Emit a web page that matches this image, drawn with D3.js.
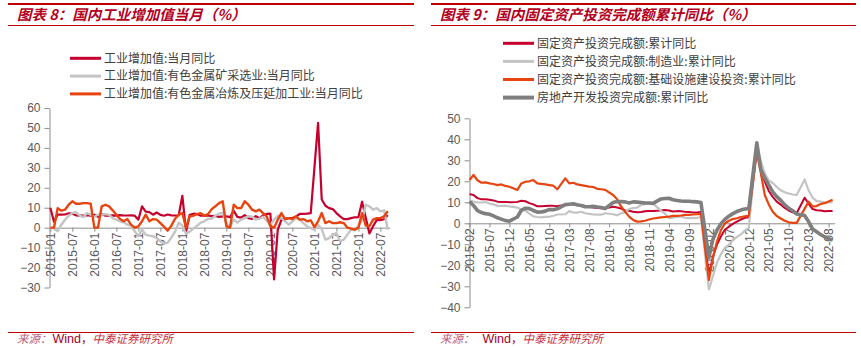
<!DOCTYPE html>
<html>
<head>
<meta charset="utf-8">
<script src="https://cdn.jsdelivr.net/npm/d3@7/dist/d3.min.js"></script>
<style>
  html, body { margin: 0; padding: 0; background: #fff; }
  svg { display: block; }
</style>
</head>
<body>
<svg id="chart" width="861" height="348"></svg>
<script>
// ---------- Panel 8: industrial value added, monthly YoY (%) ----------
// months 2015-01 .. 2022-09
const ivaMonths = d3.range(93).map(i => {
  const y = 2015 + Math.floor(i / 12), m = (i % 12) + 1;
  return y + "-" + String(m).padStart(2, "0");
});
const ivaTicks = ["2015-01","2015-07","2016-01","2016-07","2017-01","2017-07","2018-01","2018-07",
                  "2019-01","2019-07","2020-01","2020-07","2021-01","2021-07","2022-01","2022-07"];
const ivaYTicks = [-30, -20, -10, 0, 10, 20, 30, 40, 50, 60];
const ivaNames = ["工业增加值:当月同比",
                  "工业增加值:有色金属矿采选业:当月同比",
                  "工业增加值:有色金属冶炼及压延加工业:当月同比"];
const ivaTotal = [
  10, 3, 6.5, 6.5, 6.6, 7.2, 7.0, 6.2, 6.0, 6.0, 6.3, 6.0,
  6.5, 5.4, 6.8, 6.0, 6.0, 6.2, 6.0, 6.3, 6.1, 6.1, 6.2, 6.0,
  4.0, 10.7, 8.0, 7.8, 6.5, 7.6, 6.4, 6.0, 6.6, 6.2, 6.1, 6.2,
  16.0, -2.0, 6.5, 7.0, 6.8, 6.0, 6.0, 6.1, 5.8, 5.9, 5.4, 5.7,
  5.7, 5.3, 8.5, 5.4, 5.0, 6.3, 4.8, 4.4, 5.8, 4.7, 6.2, 6.9,
  7.0, -26.0, -1.1, 3.9, 4.4, 4.8, 4.8, 5.6, 6.9, 6.9, 7.0, 7.3,
  null, 52.5, 14.1, 11.0, 9.8, 9.3, 7.3, 5.7, 4.3, 4.3, 4.8, 5.2,
  5.3, 13.0, 5.0, -2.9, 0.7, 3.9, 3.8, 4.2, 6.3
];
const ivaMining = [
  0, -0.5, -1.8, 1.5, 4.0, 6.0, 7.3, 7.8, 6.0, 5.3, 7.3, 6.5,
  5.5, 6.5, 6.5, 6.8, 6.5, 4.8, 4.0, 3.2, 2.7, 1.5, 1.0, -1.8,
  -4.3, -1.0, -3.5, -4.0, -4.3, -5.2, -6.8, -8.0, -7.5, -5.0, -2.0, 2.5,
  1.0, -3.0, -2.0, -0.5, 1.0, 2.5, 3.2, 4.5, 4.5, 6.0, 7.0, 7.5,
  2.0, 0.5, 4.0, 2.5, 4.0, 4.8, 5.7, 5.5, 4.0, 4.5, 5.5, 3.5,
  1.5, 4.0, 6.0, 4.8, 3.2, 1.5, 3.2, 4.8, 4.0, 2.3, 0.7, -0.2,
  -1.0, 1.5, -0.7, -6.0, -5.2, -3.5, -2.7, -6.8, -6.0, -3.5, -1.0, -1.3,
  0.7, 4.0, 11.5, 10.7, 9.0, 9.8, 8.2, 8.7, -1.0
];
const ivaSmelting = [
  0, 0, 9.8, 8.5, 9.0, 11.5, 13.2, 12.0, 12.0, 12.3, 12.3, 12.0,
  0, 0, 10.7, 11.5, 10.7, 8.7, 6.5, 4.3, 3.2, 4.3, 1.5, 0,
  0.7, 3.2, 6.5, 3.2, 4.3, 4.0, 2.3, 0.5, -1.5, 1.0, 4.5, 6.5,
  7.3, 0, 5.7, 6.0, 6.8, 7.3, 6.0, 6.8, 9.3, 10.7, 12.3, 13.2,
  0.7, 0, 11.5, 9.8, 9.8, 13.2, 11.5, 9.0, 8.2, 9.0, 7.3, 5.7,
  0.7, 0, 4.0, 7.3, 4.3, 4.8, 4.3, 5.7, 4.0, 4.3, 3.2, 3.7,
  0.3, 3.2, 7.3, 2.3, 3.2, 2.3, 2.3, 2.7, 2.3, 0, -0.5, -1.0,
  0, 7.3, 1.0, 0.7, 4.0, 4.8, 4.8, 5.7, 8.2
];

// ---------- Panel 9: fixed-asset investment, cumulative YoY (%) ----------
// months 2015-02 .. 2022-09 (January has no cumulative figure)
const faiMonths = d3.range(92).map(i => {
  const k = i + 1;
  const y = 2015 + Math.floor(k / 12), m = (k % 12) + 1;
  return y + "-" + String(m).padStart(2, "0");
});
const faiTicks = ["2015-02","2015-07","2015-12","2016-05","2016-10","2017-03","2017-08","2018-01",
                  "2018-06","2018-11","2019-04","2019-09","2020-02","2020-07","2020-12","2021-05",
                  "2021-10","2022-03","2022-08"];
const faiYTicks = [-40, -30, -20, -10, 0, 10, 20, 30, 40, 50];
const faiNames = ["固定资产投资完成额:累计同比",
                  "固定资产投资完成额:制造业:累计同比",
                  "固定资产投资完成额:基础设施建设投资:累计同比",
                  "房地产开发投资完成额:累计同比"];
const faiTotal = [
  13.9, 13.5, 12.0, 11.4, 11.4, 11.2, 10.9, 10.3, 10.2, 10.2, 10.0,
  null, 10.2, 10.7, 10.5, 9.6, 9.0, 8.1, 8.1, 8.2, 8.3, 8.3, 8.1,
  null, 8.9, 9.2, 8.9, 8.6, 8.6, 8.3, 7.8, 7.5, 7.3, 7.2, 7.2,
  null, 7.9, 7.5, 7.0, 6.1, 6.0, 5.5, 5.3, 5.4, 5.7, 5.9, 5.9,
  null, 6.1, 6.3, 6.1, 5.6, 5.8, 5.7, 5.5, 5.4, 5.2, 5.2, 5.4,
  null, -24.5, -16.1, -10.3, -6.3, -3.1, -1.6, -0.3, 0.8, 1.8, 2.6, 2.9,
  null, 35.0, 25.6, 19.9, 15.4, 12.6, 10.3, 8.9, 7.3, 6.1, 5.2, 4.9,
  null, 12.2, 9.3, 6.8, 6.2, 6.1, 5.7, 5.8, 5.9
];
const faiManufacturing = [
  10.9, 10.4, 10.0, 9.9, 10.1, 9.4, 9.0, 8.3, 8.3, 8.4, 8.1,
  null, 7.5, 6.4, 6.0, 4.6, 3.3, 3.0, 2.8, 3.1, 3.1, 3.6, 4.2,
  null, 4.3, 5.8, 5.1, 5.1, 5.5, 4.8, 4.5, 4.2, 4.1, 4.1, 4.8,
  null, 4.3, 3.8, 4.8, 5.2, 6.8, 7.3, 7.5, 8.7, 9.1, 9.5, 9.5,
  null, 5.9, 4.6, 2.5, 2.7, 3.0, 3.3, 2.6, 2.5, 2.6, 2.5, 3.1,
  null, -31.5, -25.2, -18.8, -14.8, -11.7, -10.2, -8.1, -6.5, -5.3, -3.5, -2.2,
  null, 37.3, 29.8, 23.8, 20.4, 19.2, 17.3, 15.7, 14.8, 14.2, 13.7, 13.5,
  null, 20.9, 15.6, 12.2, 10.6, 10.4, 9.9, 10.0, 10.1
];
const faiInfrastructure = [
  20.6, 23.0, 20.5, 19.3, 19.5, 19.0, 18.7, 18.2, 18.5, 17.8, 17.4,
  null, 15.9, 19.0, 19.8, 20.0, 20.6, 19.0, 18.8, 18.5, 18.2, 17.9, 16.2,
  null, 21.4, 19.0, 19.3, 18.5, 18.2, 17.8, 17.5, 17.3, 16.4, 16.2, 15.9,
  null, 13.5, 11.5, 8.0, 5.5, 3.2, 1.6, 0.8, 0.9, 1.2, 1.8, 2.3,
  null, 2.8, 3.0, 3.2, 3.5, 3.5, 3.7, 4.0, 4.0, 4.2, 4.3, 4.5,
  null, -27.0, -16.4, -8.8, -3.3, -0.1, 1.2, 2.0, 2.4, 3.0, 3.3, 3.5,
  null, 34.0, 24.0, 13.5, 9.0, 5.5, 3.5, 2.3, 1.2, 0.5, 0.2, 0.2,
  null, 7.0, 10.3, 8.0, 8.2, 9.2, 9.6, 10.4, 11.2
];
const faiRealEstate = [
  10.4, 8.5, 6.0, 5.1, 4.6, 4.3, 3.5, 2.6, 2.0, 1.3, 1.0,
  null, 3.0, 6.2, 7.2, 7.0, 6.1, 5.3, 5.4, 5.8, 6.6, 6.5, 6.9,
  null, 8.9, 9.1, 9.3, 8.8, 8.5, 7.9, 7.9, 8.1, 7.8, 7.5, 7.0,
  null, 9.9, 10.4, 10.3, 10.2, 9.7, 10.2, 10.1, 9.9, 9.7, 9.7, 9.5,
  null, 11.6, 11.8, 11.9, 11.2, 10.9, 10.6, 10.5, 10.5, 10.3, 10.2, 9.9,
  null, -16.3, -7.7, -3.3, -0.3, 1.9, 3.4, 4.6, 5.6, 6.3, 6.8, 7.0,
  null, 38.3, 25.6, 21.6, 18.3, 15.0, 12.7, 10.9, 8.8, 7.2, 6.0, 4.4,
  null, 3.7, 0.7, -2.7, -4.0, -5.4, -6.4, -7.4, -8.0
];

// ---------- shared styling ----------
const RED = "#c5002e", LIGHT = "#c4c4c4", ORANGE = "#e8440f", DARK = "#7f7f7f";
const TITLE_RED = "#b4001c", RULE_RED = "#c00000";
const AXIS_GRAY = "#8c8c8c", TICK_TEXT = "#595959";
const CJK = "'Noto Sans CJK SC', 'Noto Sans', sans-serif";
const LATIN = "'Liberation Sans', Arial, sans-serif";

const svg = d3.select("#chart");

function drawPanel(cfg) {
  const g = svg.append("g");

  // title block with red rules
  g.append("line").attr("x1", cfg.left).attr("x2", cfg.right)
    .attr("y1", 4).attr("y2", 4).attr("stroke", RULE_RED).attr("stroke-width", 2);
  g.append("line").attr("x1", cfg.left).attr("x2", cfg.right)
    .attr("y1", 25.5).attr("y2", 25.5).attr("stroke", RULE_RED).attr("stroke-width", 1);
  g.append("text").attr("x", cfg.titleX).attr("y", 19.5)
    .attr("font-family", CJK).attr("font-size", 14.5).attr("font-weight", "bold")
    .attr("font-style", "italic").attr("fill", TITLE_RED).text(cfg.title);

  // source line
  g.append("line").attr("x1", cfg.left).attr("x2", cfg.right)
    .attr("y1", 332.5).attr("y2", 332.5).attr("stroke", RULE_RED).attr("stroke-width", 1);
  const src = g.append("text").attr("x", cfg.titleX).attr("y", 342.5)
    .attr("font-size", 11.5).attr("font-family", CJK);
  src.append("tspan").attr("fill", "#c0607c").attr("font-style", "italic").text("来源：");
  src.append("tspan").attr("fill", "#a8002a").attr("font-family", LATIN).attr("font-size", 12.5)
    .attr("dx", cfg.srcGap).text("Wind");
  src.append("tspan").attr("fill", "#a8002a").text("，");
  src.append("tspan").attr("fill", "#c8303c").attr("font-style", "italic").text("中泰证券研究所");

  // scales
  const x = d3.scalePoint().domain(cfg.months).range(cfg.xRange).padding(0.5);
  const y = d3.scaleLinear().domain(cfg.yDomain).range(cfg.yRange);

  // y axis
  const yAxis = g.append("g").attr("transform", `translate(${cfg.yAxisX},0)`)
    .call(d3.axisLeft(y).tickValues(cfg.yTicks).tickSize(5).tickSizeOuter(0).tickPadding(4));
  yAxis.select(".domain").attr("stroke", AXIS_GRAY);
  yAxis.selectAll(".tick line").attr("stroke", AXIS_GRAY);
  yAxis.selectAll(".tick text").attr("fill", TICK_TEXT)
    .attr("font-family", LATIN).attr("font-size", 12);

  // x axis along the zero line, rotated month labels
  const xAxis = g.append("g").attr("transform", `translate(0,${y(0)})`)
    .call(d3.axisBottom(x).tickValues(cfg.ticks).tickSize(4).tickSizeOuter(0));
  xAxis.select(".domain").attr("stroke", AXIS_GRAY);
  xAxis.selectAll(".tick line").attr("stroke", AXIS_GRAY);
  xAxis.selectAll(".tick text")
    .attr("transform", "rotate(-90)")
    .attr("x", -5).attr("y", 0).attr("dy", "0.35em")
    .style("text-anchor", "end")
    .attr("fill", TICK_TEXT).attr("font-family", LATIN).attr("font-size", 12);

  // series lines (missing months are bridged)
  const line = d3.line().x(d => x(d.m)).y(d => y(d.v));
  cfg.series.forEach(s => {
    const pts = s.values.map((v, i) => ({ m: cfg.months[i], v }))
      .filter(d => d.v !== null);
    g.append("path").datum(pts)
      .attr("fill", "none").attr("stroke", s.color)
      .attr("stroke-width", s.width).attr("stroke-linejoin", "round")
      .attr("d", line);
  });

  // legend
  cfg.series.forEach((s, i) => {
    const ly = cfg.legendY + i * cfg.legendStep;
    g.append("line").attr("x1", cfg.legendX).attr("x2", cfg.legendX + 31)
      .attr("y1", ly).attr("y2", ly).attr("stroke", s.color)
      .attr("stroke-width", s.legendWidth);
    g.append("text").attr("x", cfg.legendX + 34).attr("y", ly).attr("dy", "0.36em")
      .attr("font-family", CJK).attr("font-size", 12).attr("fill", "#404040")
      .text(s.name);
  });
}

drawPanel({
  left: 8, right: 414, titleX: 17, srcGap: 1,
  title: "图表 8：国内工业增加值当月（%）",
  months: ivaMonths, ticks: ivaTicks,
  xRange: [48.5, 389.6], yAxisX: 49.5,
  yDomain: [-30, 60], yRange: [287.5, 108], yTicks: ivaYTicks,
  legendX: 70, legendY: 58.3, legendStep: 17.8,
  series: [
    { name: ivaNames[0], values: ivaTotal, color: RED, width: 2.2, legendWidth: 3 },
    { name: ivaNames[1], values: ivaMining, color: LIGHT, width: 2.4, legendWidth: 3 },
    { name: ivaNames[2], values: ivaSmelting, color: ORANGE, width: 2.4, legendWidth: 3 }
  ]
});

drawPanel({
  left: 431, right: 856, titleX: 440, srcGap: 8,
  title: "图表 9：国内固定资产投资完成额累计同比（%）",
  months: faiMonths, ticks: faiTicks,
  xRange: [467.5, 834.6], yAxisX: 469.5,
  yDomain: [-40, 50], yRange: [307.3, 118.3], yTicks: faiYTicks,
  legendX: 503, legendY: 43.3, legendStep: 18.1,
  series: [
    { name: faiNames[0], values: faiTotal, color: RED, width: 2, legendWidth: 3 },
    { name: faiNames[1], values: faiManufacturing, color: LIGHT, width: 2.2, legendWidth: 3 },
    { name: faiNames[2], values: faiInfrastructure, color: ORANGE, width: 2.2, legendWidth: 3 },
    { name: faiNames[3], values: faiRealEstate, color: DARK, width: 3.6, legendWidth: 4 }
  ]
});
</script>
</body>
</html>
